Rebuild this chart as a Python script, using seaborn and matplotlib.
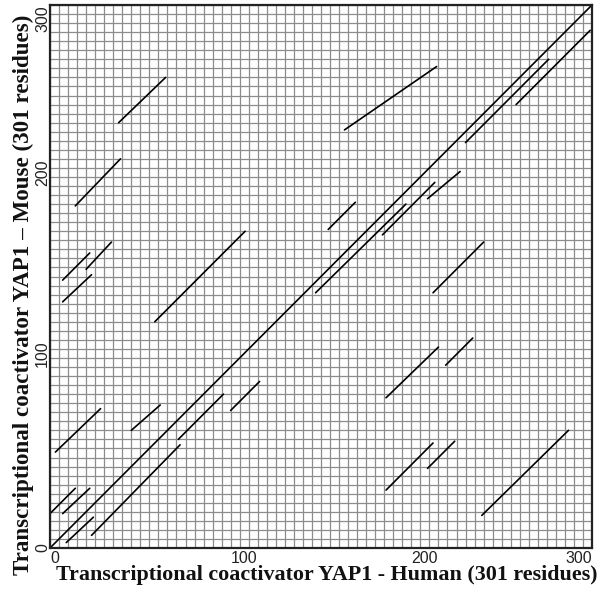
import pandas as pd
import matplotlib
matplotlib.use('Agg')
import matplotlib.pyplot as plt
import seaborn as sns

# dot plot segments (residue positions, human on x, mouse on y)
seg_x0 = [0, 230, 258, 163, 154, 147, 184, 209, 212, 186, 219, 186, 209, 239,
          38, 14, 7, 7, 20, 58, 3, 45, 71, 100, 0, 7, 9, 23]
seg_x1 = [300, 276, 299, 214, 169, 197, 213, 227, 240, 215, 234, 212, 224, 287,
          64, 39, 22, 23, 34, 108, 28, 61, 96, 116, 14, 22, 24, 72]
seg_y0 = [0, 224, 245, 231, 176, 141, 173, 193, 141, 83, 101, 32, 44, 18,
          235, 189, 148, 136, 154, 125, 53, 65, 60, 76, 19, 19, 3, 7]
seg_y1 = [300, 270, 286, 266, 191, 190, 202, 208, 169, 111, 116, 58, 59, 65,
          260, 215, 163, 151, 169, 175, 77, 79, 85, 92, 33, 33, 17, 57]

tick_vals = [0, 100, 200, 300]
grid_step = 5
x_title = 'Transcriptional coactivator YAP1 - Human (301 residues)'
y_title = 'Transcriptional coactivator YAP1 \u2013 Mouse (301 residues)'

rows = []
for i in range(len(seg_x0)):
    rows.append({'seg': i, 'x': seg_x0[i], 'y': seg_y0[i]})
    rows.append({'seg': i, 'x': seg_x1[i], 'y': seg_y1[i]})
df = pd.DataFrame(rows)

sns.set_style('white')
plt.rcParams['font.family'] = ['Liberation Sans', 'DejaVu Sans']

fig = plt.figure(figsize=(6.09, 5.92), dpi=100)
ax = fig.add_axes([50 / 609, 44 / 592, 542 / 609, 543 / 592])

# background grid
for v in range(0, 301, grid_step):
    ax.axvline(v, color='#8c8c8c', lw=0.9, zorder=0)
    ax.axhline(v, color='#8c8c8c', lw=0.9, zorder=0)

sns.lineplot(data=df, x='x', y='y', units='seg', estimator=None,
             color='black', lw=1.2, ax=ax, sort=False)

ax.set_xlim(0, 300)
ax.set_ylim(0, 300)
for s in ax.spines.values():
    s.set_color('#222222')
    s.set_linewidth(1.6)

ax.set_xticks(tick_vals)
ax.set_yticks(tick_vals)
ax.set_xticklabels([str(v) for v in tick_vals], fontsize=11.5, color='#222222')
ax.set_yticklabels([str(v) for v in tick_vals], fontsize=11.5, color='#222222',
                   rotation=90)
ax.tick_params(length=0)
ax.tick_params(axis='x', pad=2)
ax.tick_params(axis='y', pad=0)
xl = ax.get_xticklabels()
for t in xl[:-1]:
    t.set_ha('left')
xl[-1].set_ha('right')
yl = ax.get_yticklabels()
yl[0].set_va('center')
for t in yl[1:-1]:
    t.set_va('bottom')
yl[-1].set_va('top')

ax.set_xlabel(x_title, fontsize=15.8, fontweight='bold', family='Liberation Serif',
              color='#111111')
ax.set_ylabel(y_title, fontsize=16.6, fontweight='bold', family='Liberation Serif',
              color='#111111')
ax.xaxis.set_label_coords(0.511, -0.031)
ax.yaxis.set_label_coords(-0.03, 0.466)

fig.savefig('out.png', dpi=100)
